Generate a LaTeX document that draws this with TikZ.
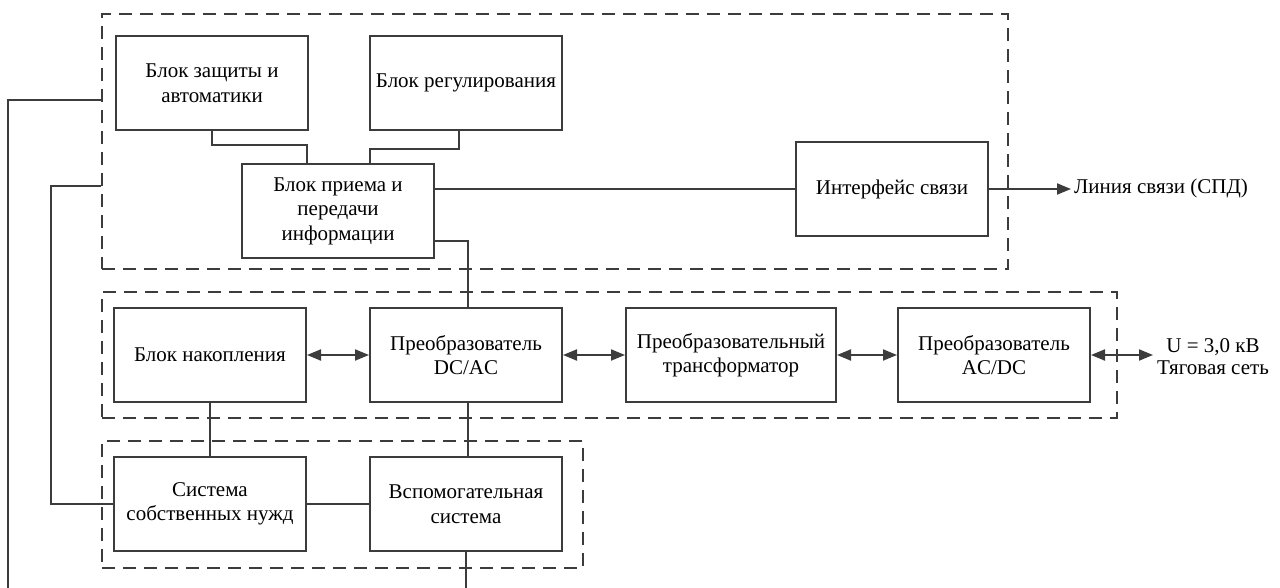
\documentclass[tikz,border=0pt]{standalone}
\usepackage{fontspec}
\setmainfont{Liberation Serif}
\usetikzlibrary{arrows.meta,calc}
\definecolor{ln}{HTML}{3C3C3C}
\tikzset{
  blk/.style={draw=ln, line width=2pt, minimum height=94pt, minimum width=192pt, inner sep=1pt, align=center, font=\fontsize{21}{24.5}\selectfont, text=black},
  grp/.style={draw=ln, line width=2pt, dash pattern=on 13pt off 8pt, minimum width=#1, inner sep=0pt},
  con/.style={draw=ln, line width=2pt},
  arr/.style={con, -{Triangle[length=14pt,width=11pt]}},
  darr/.style={con, {Triangle[length=14pt,width=11pt]}-{Triangle[length=14pt,width=11pt]}},
  lbl/.style={font=\fontsize{21}{22}\selectfont, align=center, inner sep=0pt}
}
\begin{document}
\begin{tikzpicture}[x=1pt,y=-1pt]
\useasboundingbox (0,0) rectangle (1280,588);
% groups
\node[grp=906pt, minimum height=255pt] (g1) at (555,141.5) {};
\node[grp=1015pt, minimum height=126pt] (g2) at (609.5,355) {};
\node[grp=481pt, minimum height=127pt] (g3) at (342.5,504.5) {};
% blocks
\node[blk] (zash) at (212,83) {Блок защиты и\\автоматики};
\node[blk] (reg) at (466,83) {Блок регулирования};
\node[blk] (priem) at (338,211) {Блок приема и\\передачи\\информации};
\node[blk] (interf) at (892,189) {Интерфейс связи};
\node[blk] (nakop) at (210,355) {Блок накопления};
\node[blk] (dcac) at (466,355) {Преобразователь\\DC/AC};
\node[blk, minimum width=210pt] (trans) at (731,355) {Преобразовательный\\трансформатор};
\node[blk] (acdc) at (994,355) {Преобразователь\\AC/DC};
\node[blk] (sob) at (210,504) {Система\\собственных нужд};
\node[blk] (vsp) at (466,504) {Вспомогательная\\система};
% labels
\node[lbl, anchor=west] (line) at (1074,188) {Линия связи (СПД)};
\node[lbl] (net) at (1213,357) {U = 3,0 кВ\\Тяговая сеть};
\coordinate (lineend) at (1071,189);
\coordinate (netend) at (1153,355);
\coordinate (b1) at (8,588);
\coordinate (b2) at (466,588);
% connectors
\draw[con] (zash.south) -- ++(0,14) -| ([xshift=-31pt]priem.north);
\draw[con] ([xshift=-7pt]reg.south) -- ++(0,18) -| ([xshift=32pt]priem.north);
\draw[con] (priem.east |- interf.west) -- (interf.west);
\draw[arr] (interf.east) -- (lineend);
\draw[con] ([yshift=-30pt]priem.east) -| ([xshift=2pt]dcac.north);
\draw[darr] (nakop.east) -- (dcac.west);
\draw[darr] (dcac.east) -- (trans.west);
\draw[darr] (trans.east) -- (acdc.west);
\draw[darr] (acdc.east) -- (netend);
\draw[con] (nakop.south) -- (sob.north);
\draw[con] ([xshift=2pt]dcac.south) -- ([xshift=2pt]vsp.north);
\draw[con] (sob.east) -- (vsp.west);
\draw[con] (vsp.south) -- (b2);
\draw[con] (g1.west |- 0,100) -- (8,100) -- (b1);
\draw[con] (g1.west |- 0,186) -- (51,186) |- (sob.west);
\end{tikzpicture}
\end{document}
